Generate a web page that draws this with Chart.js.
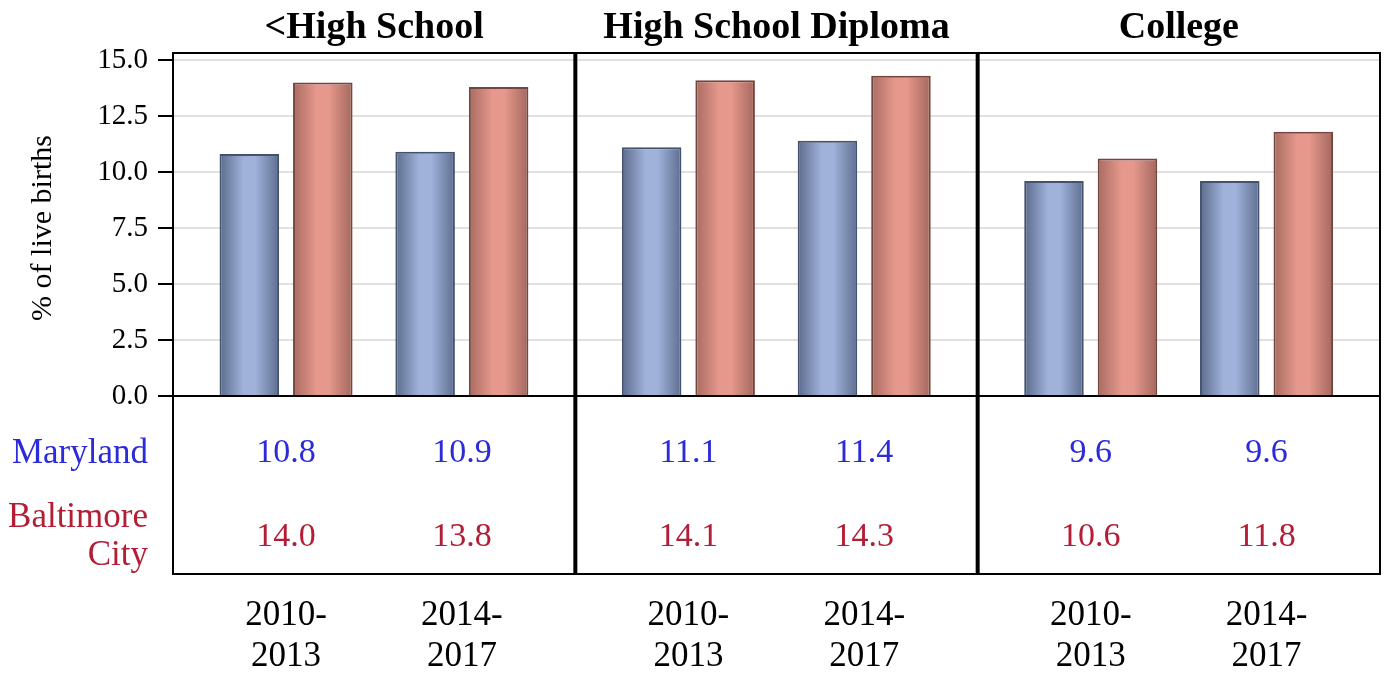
<!DOCTYPE html>
<html>
<head>
<meta charset="utf-8">
<title>Low birth weight by maternal education</title>
<script src="https://cdn.jsdelivr.net/npm/chart.js@4"></script>
<style>
	body { margin: 0; background: #fff; }
	#wrap { width: 1387px; height: 675px; position: relative; }
</style>
</head>
<body>
<div id="wrap"><canvas id="chart"></canvas></div>
<script>
// Data
const panels = ['<High School', 'High School Diploma', 'College'];
const periods = [['2010-', '2013'], ['2014-', '2017']];
const marylandValues = [10.8, 10.9, 11.1, 11.4, 9.6, 9.6];
const baltimoreValues = [14.0, 13.8, 14.1, 14.3, 10.6, 11.8];
const seriesNames = ['Maryland', ['Baltimore', 'City']];
const yTicks = [0, 2.5, 5, 7.5, 10, 12.5, 15];

// Layout of the groups inside each panel (fraction of panel width)
const groupOffsets = [0.281, 0.718];
const catPct = 0.836;
const barPct = 0.81;

const serif = '"Liberation Serif", "Times New Roman", serif';
const blueText = '#2b2bd9';
const redText = '#b31d35';

function groupX(i) {
	return Math.floor(i / 2) + groupOffsets[i % 2];
}

// Horizontal shading of a bar: darker edges, light middle
function barFill(ctx, stops, flat) {
	const chart = ctx.chart;
	const xs = chart.scales.x;
	if (!chart.chartArea || !ctx.raw || !xs) return flat;
	const unit = xs.getPixelForValue(1) - xs.getPixelForValue(0);
	const size = unit * (groupOffsets[1] - groupOffsets[0]) * catPct;
	const c = xs.getPixelForValue(ctx.raw.x) + (ctx.datasetIndex === 0 ? -size / 4 : size / 4);
	const half = (size / 4) * barPct;
	const g = chart.ctx.createLinearGradient(c - half, 0, c + half, 0);
	g.addColorStop(0, stops[0]);
	g.addColorStop(0.4, stops[1]);
	g.addColorStop(0.6, stops[1]);
	g.addColorStop(1, stops[2]);
	return g;
}

const blueStops = ['#5b6b8c', '#a0b2da', '#5e6e90'];
const redStops = ['#a86b61', '#e6988c', '#a3675e'];

// Draws panel titles, frame, separators and the value table
const panelPlugin = {
	id: 'panelPlugin',
	afterDraw(chart) {
		const { ctx, chartArea } = chart;
		const xs = chart.scales.x;
		const top = chartArea.top - 7;
		const bottom = chartArea.bottom + 178;
		const left = chartArea.left;
		const right = chartArea.right;

		ctx.save();
		ctx.strokeStyle = '#000';

		// x axis line at 0
		ctx.lineWidth = 2;
		ctx.beginPath();
		ctx.moveTo(left, chartArea.bottom);
		ctx.lineTo(right, chartArea.bottom);
		ctx.stroke();

		// outer frame
		ctx.strokeRect(left, top, right - left, bottom - top);

		// panel separators
		ctx.lineWidth = 4;
		[1, 2].forEach((p) => {
			const x = xs.getPixelForValue(p);
			ctx.beginPath();
			ctx.moveTo(x, top);
			ctx.lineTo(x, bottom);
			ctx.stroke();
		});

		// panel titles
		ctx.fillStyle = '#000';
		ctx.textAlign = 'center';
		ctx.textBaseline = 'alphabetic';
		ctx.font = 'bold 38px ' + serif;
		panels.forEach((name, p) => {
			ctx.fillText(name, xs.getPixelForValue(p + 0.5), 38);
		});

		// row labels
		ctx.font = '35px ' + serif;
		ctx.textAlign = 'right';
		ctx.fillStyle = blueText;
		ctx.fillText(seriesNames[0], 148, chartArea.bottom + 67);
		ctx.fillStyle = redText;
		ctx.fillText(seriesNames[1][0], 148, chartArea.bottom + 131);
		ctx.fillText(seriesNames[1][1], 148, chartArea.bottom + 169);

		// table values
		ctx.font = '34px ' + serif;
		ctx.textAlign = 'center';
		marylandValues.forEach((v, i) => {
			const x = xs.getPixelForValue(groupX(i));
			ctx.fillStyle = blueText;
			ctx.fillText(v.toFixed(1), x, chartArea.bottom + 66);
			ctx.fillStyle = redText;
			ctx.fillText(baltimoreValues[i].toFixed(1), x, chartArea.bottom + 150);
		});
		ctx.restore();
	},
};

const ctx = document.getElementById('chart').getContext('2d');
Chart.defaults.font.family = serif;
Chart.defaults.color = '#000';

new Chart(ctx, {
	type: 'bar',
	data: {
		datasets: [
			{
				label: 'Maryland',
				data: marylandValues.map((v, i) => ({ x: groupX(i), y: v })),
				backgroundColor: (c) => barFill(c, blueStops, '#8fa1c9'),
				borderColor: '#44526e',
				borderWidth: 2,
			},
			{
				label: 'Baltimore City',
				data: baltimoreValues.map((v, i) => ({ x: groupX(i), y: v })),
				backgroundColor: (c) => barFill(c, redStops, '#d88a7e'),
				borderColor: '#74443e',
				borderWidth: 2,
			},
		],
	},
	options: {
		responsive: true,
		maintainAspectRatio: false,
		animation: false,
		categoryPercentage: catPct,
		barPercentage: barPct,
		layout: { padding: { top: 60, right: 7, left: 0, bottom: 0 } },
		plugins: {
			legend: { display: false },
			tooltip: { enabled: false },
		},
		scales: {
			x: {
				type: 'linear',
				min: 0,
				max: 3,
				offset: false,
				grid: { display: false, drawTicks: false },
				border: { display: false },
				afterFit: (scale) => {
					scale.height = 279;
					scale.paddingLeft = 0;
					scale.paddingRight = 0;
				},
				afterBuildTicks: (scale) => {
					scale.ticks = marylandValues.map((v, i) => ({ value: groupX(i) }));
				},
				ticks: {
					autoSkip: false,
					maxRotation: 0,
					padding: 200,
					font: { size: 35, lineHeight: 1.15 },
					callback: (value, index) => periods[index % 2],
				},
			},
			y: {
				min: 0,
				max: 15,
				afterFit: (scale) => { scale.width = 173; },
				afterBuildTicks: (scale) => {
					scale.ticks = yTicks.map((v) => ({ value: v }));
				},
				grid: {
					color: '#e0e0e0',
					lineWidth: 2,
					tickColor: '#000',
					tickWidth: 2,
					tickLength: 15,
				},
				border: { display: false },
				ticks: {
					padding: 10,
					font: { size: 29 },
					callback: (v) => Number(v).toFixed(1),
				},
				title: {
					display: true,
					text: '% of live births',
					font: { size: 30 },
					padding: { top: 25, bottom: 0 },
				},
			},
		},
	},
	plugins: [panelPlugin],
});
</script>
</body>
</html>
